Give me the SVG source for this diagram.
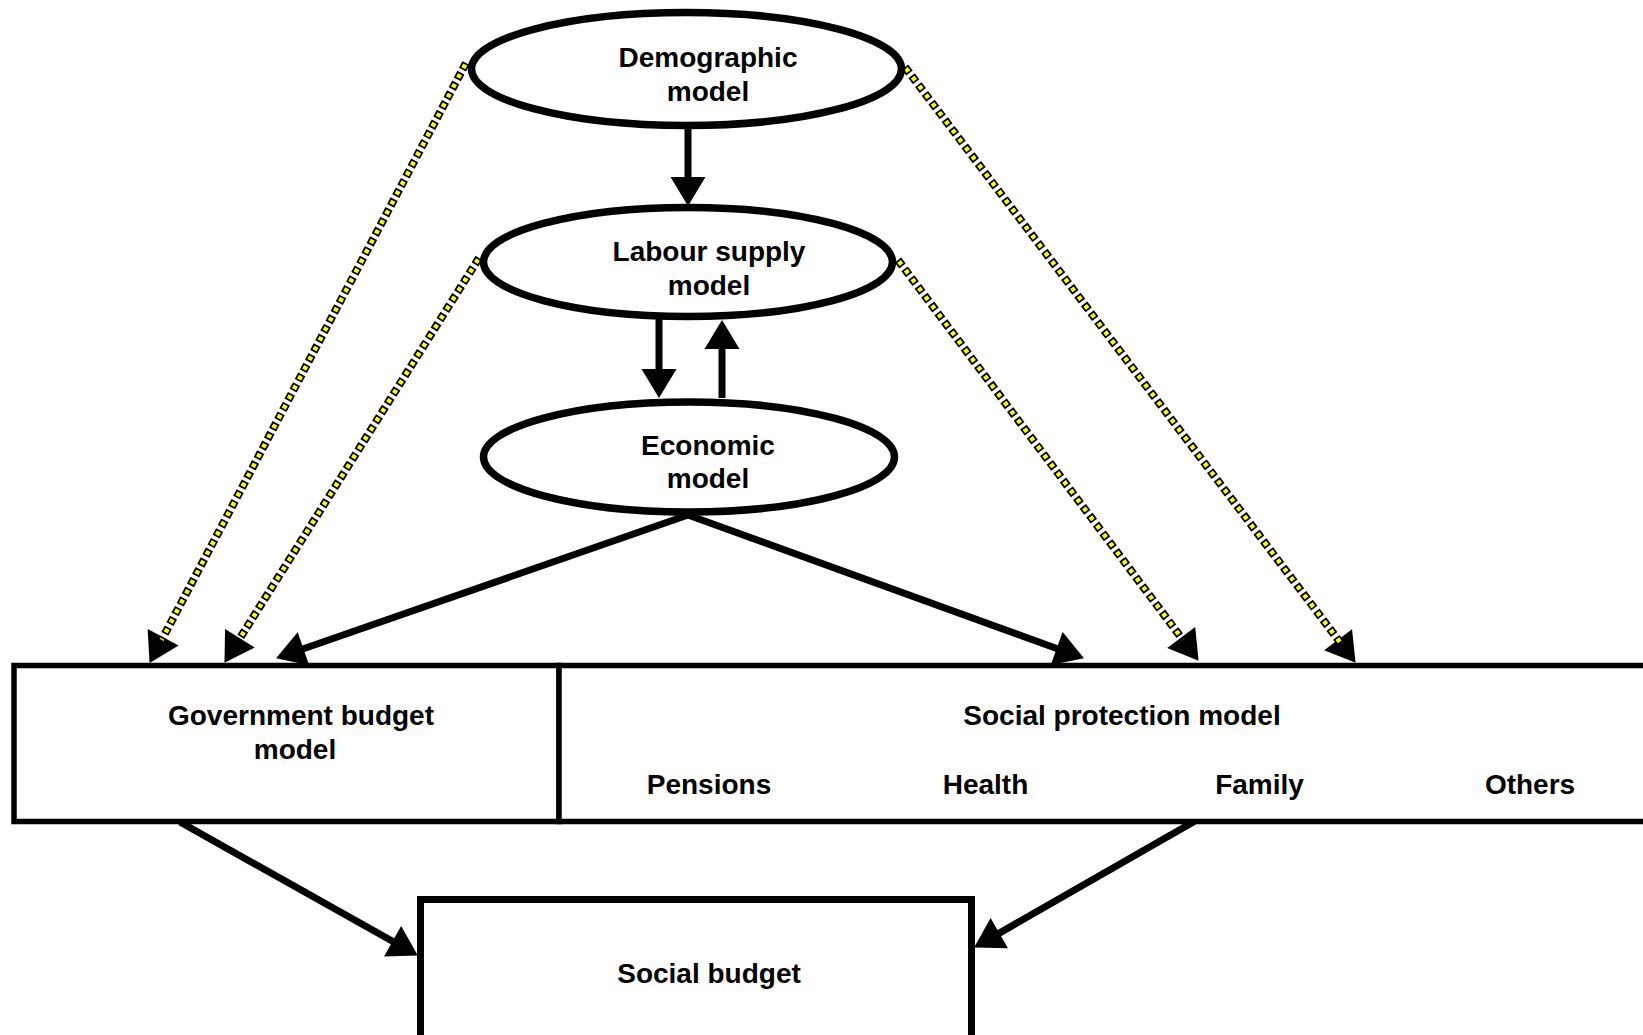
<svg xmlns="http://www.w3.org/2000/svg" width="1643" height="1035" viewBox="0 0 1643 1035">
<style>
.node{fill:#fff;stroke:#000}
.ell{stroke-width:7.5}
.box{stroke-width:5.5}
.sb{stroke-width:7}
.t{font-family:"Liberation Sans",Arial,sans-serif;font-weight:bold;font-size:28px;fill:#000;text-anchor:middle}
.solid{fill:none;stroke:#000;stroke-width:7;marker-end:url(#ah)}
.dotb{fill:none;stroke:#000;stroke-width:8;stroke-dasharray:7.5 3.5;marker-end:url(#ah)}
.doty{fill:none;stroke:#ffff00;stroke-width:4.5;stroke-dasharray:4 7;stroke-dashoffset:-1.75}
</style>
<defs>
<marker id="ah" markerUnits="userSpaceOnUse" markerWidth="29" markerHeight="35" refX="3" refY="17.5" orient="auto" overflow="visible">
<path d="M0,0 L29,17.5 L0,35 Z" fill="#000"/>
</marker>
</defs>
<rect width="1643" height="1035" fill="#fff"/>
<g id="connectors">
<path class="dotb" d="M466,63 L161.7,639.9"/>
<path class="doty" d="M466,63 L161.7,639.9"/>
<path class="dotb" d="M479,258 L238.3,640.8"/>
<path class="doty" d="M479,258 L238.3,640.8"/>
<path class="dotb" d="M898,260 L1183,640"/>
<path class="doty" d="M898,260 L1183,640"/>
<path class="dotb" d="M905,67 L1339.9,642.1"/>
<path class="doty" d="M905,67 L1339.9,642.1"/>
<path class="solid" d="M688,126 L688,180"/>
<path class="solid" d="M659,318 L659,372"/>
<path class="solid" d="M722,398 L722,346"/>
<path class="solid" d="M688,515 L300.6,649.8"/>
<path class="solid" d="M688,515 L1059.5,649.5"/>
<path class="solid" d="M180,822 L395.2,942.8"/>
<path class="solid" d="M1195,821 L996.7,934.6"/>
</g>
<g id="demographic">
<ellipse class="node ell" cx="686.5" cy="69" rx="215" ry="56.5"/>
<text class="t" x="708" y="67">Demographic</text>
<text class="t" x="708" y="100.5">model</text>
</g>
<g id="labour">
<ellipse class="node ell" cx="688" cy="262" rx="204.5" ry="54.5"/>
<text class="t" x="709" y="261">Labour supply</text>
<text class="t" x="709" y="294.5">model</text>
</g>
<g id="economic">
<ellipse class="node ell" cx="689" cy="457" rx="205.5" ry="55"/>
<text class="t" x="708" y="455">Economic</text>
<text class="t" x="708" y="488">model</text>
</g>
<g id="government">
<rect class="node box" x="14" y="665.5" width="545" height="156"/>
<text class="t" x="301" y="725">Government budget</text>
<text class="t" x="295" y="758.5">model</text>
</g>
<g id="socialprotection">
<rect class="node box" x="559" y="665.5" width="1100" height="156"/>
<text class="t" x="1122" y="725">Social protection model</text>
<text class="t" x="709" y="794">Pensions</text>
<text class="t" x="985.5" y="794">Health</text>
<text class="t" x="1259.5" y="794">Family</text>
<text class="t" x="1530" y="794">Others</text>
</g>
<g id="socialbudget">
<rect class="node sb" x="420.5" y="899.5" width="551" height="145"/>
<text class="t" x="709" y="983">Social budget</text>
</g>
</svg>
